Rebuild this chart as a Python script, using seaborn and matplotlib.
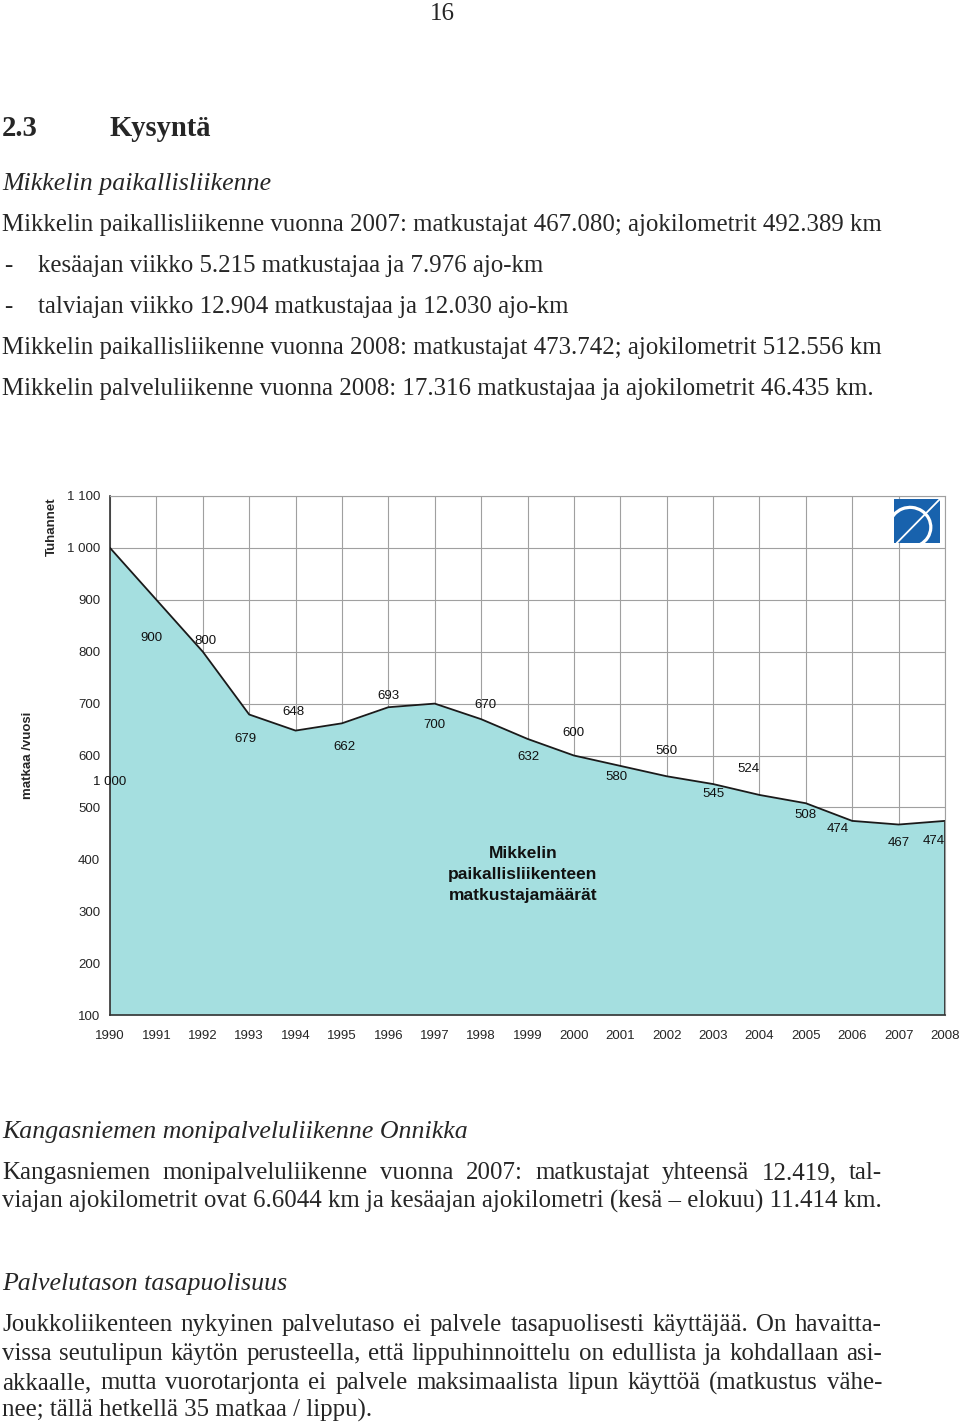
import numpy as np
import pandas as pd
import seaborn as sns
import matplotlib.pyplot as plt
from matplotlib.patches import Rectangle, Arc

# chart data (thousands of trips per year)
years = list(range(1990, 2009))
trips = [1000, 900, 800, 679, 648, 662, 693, 700, 670, 632, 600, 580, 560, 545, 524, 508, 474, 467, 474]
point_labels = ["1 000", "900", "800", "679", "648", "662", "693", "700", "670", "632",
                "600", "580", "560", "545", "524", "508", "474", "467", "474"]
y_ticks = [100, 200, 300, 400, 500, 600, 700, 800, 900, 1000, 1100]
y_tick_labels = ["100", "200", "300", "400", "500", "600", "700", "800", "900", "1 000", "1 100"]

# label offsets in pixels (dx, dy) - layout only
label_off = [(0, -234), (-5, -38), (3, 11), (-4, -25), (-2, 19), (2, -24), (0, 11), (0, -21),
             (4, 14), (1, -18), (0, 23), (-4, -11), (0, 25), (0, -10), (-11, 26), (0, -12),
             (-14, -8), (0, -18), (-11, -20)]

df = pd.DataFrame({"vuosi": years, "matkat": trips})

W, H = 960, 1422
sns.set_theme(style="white")
plt.rcParams["font.family"] = ["Liberation Sans", "DejaVu Sans"]

fig = plt.figure(figsize=(W / 100, H / 100), dpi=100)

def fx(x):
    return x / W

def fy(y):
    return 1 - y / H

# ---- chart ----
ax = fig.add_axes([fx(110), fy(1015), fx(945) - fx(110), fy(496) - fy(1015)])
ax.set_xlim(1990, 2008)
ax.set_ylim(100, 1100)
ax.set_xticks(years)
ax.set_xticklabels([str(y) for y in years], fontsize=9.5)
ax.set_yticks(y_ticks)
ax.set_yticklabels(y_tick_labels, fontsize=9.5)
ax.tick_params(axis="both", direction="out", length=4, width=0.8, color="#333333", pad=3)
ax.tick_params(axis="x", pad=7)
ax.grid(True, color="#a0a0a0", linewidth=0.8, zorder=0)
ax.set_axisbelow(True)

ax.fill_between(df["vuosi"], df["matkat"], 100, color="#a5dfe0", zorder=2, linewidth=0)
sns.lineplot(data=df, x="vuosi", y="matkat", ax=ax, color="#1a1a1a", linewidth=1.3, zorder=3)
ax.plot([2008, 2008], [100, trips[-1]], color="#333333", linewidth=1.3, zorder=3)
ax.set_xlabel("")
ax.set_ylabel("")

for s in ["left", "bottom"]:
    ax.spines[s].set_color("#333333")
    ax.spines[s].set_linewidth(1.2)
for s in ["top", "right"]:
    ax.spines[s].set_color("#a0a0a0")
    ax.spines[s].set_linewidth(0.8)

for yr, v, lab, (dx, dy) in zip(years, trips, point_labels, label_off):
    ax.annotate(lab, (yr, v), xytext=(dx, dy), textcoords="offset pixels",
                ha="center", va="center", fontsize=9.5, color="#111111", zorder=4)

ax.text(1998.9, 370, "Mikkelin\npaikallisliikenteen\nmatkustajamäärät", ha="center", va="center",
        fontsize=12.5, fontweight="bold", color="#111111", linespacing=1.5, zorder=4)

fig.text(fx(52), fy(527), "Tuhannet", rotation=90, ha="center", va="center",
         fontsize=9.5, fontweight="bold")
fig.text(fx(28), fy(755), "matkaa /vuosi", rotation=90, ha="center", va="center",
         fontsize=9.5, fontweight="bold")

# logo
lax = fig.add_axes([fx(894), fy(543), fx(940) - fx(894), fy(499) - fy(543)])
lax.set_xlim(0, 1)
lax.set_ylim(0, 1)
lax.axis("off")
sq = Rectangle((0, 0), 1, 1, color="#1862ad", zorder=1)
lax.add_patch(sq)
arc = Arc((0.35, 0.36), 0.9, 0.9, theta1=-60, theta2=170, color="white", linewidth=2.3, zorder=2)
lax.add_patch(arc)
arc.set_clip_path(sq)
lax.plot([0.06, 1.0], [0.0, 1.0], color="white", linewidth=1.3, zorder=3)

# ---- page text ----
serif = ["Liberation Serif", "DejaVu Serif"]
renderer = fig.canvas.get_renderer()

def line(y, txt, x0=2, x1=None, size=17.9, style="normal", weight="normal"):
    y = y + 2
    kw = dict(fontsize=size, family=serif, style=style, weight=weight, va="center", ha="left")
    if x1 is None:
        fig.text(fx(x0), fy(y), txt, **kw)
        return
    words = txt.split()
    arts = [fig.text(fx(x0), fy(y), w, **kw) for w in words]
    widths = [a.get_window_extent(renderer).width for a in arts]
    gap = (x1 - x0 - sum(widths)) / max(len(words) - 1, 1)
    x = x0
    for a, w in zip(arts, widths):
        a.set_x(fx(x))
        x += w + gap

line(12, "16", x0=430)
line(127, "2.3", size=20.6, weight="bold")
line(127, "Kysyntä", x0=110, size=20.6, weight="bold")
line(182, "Mikkelin paikallisliikenne", size=18.6, style="italic")
line(223, "Mikkelin paikallisliikenne vuonna 2007: matkustajat 467.080; ajokilometrit 492.389 km")
line(264, "-", x0=4)
line(264, "kesäajan viikko 5.215 matkustajaa ja 7.976 ajo-km", x0=38)
line(305, "-", x0=4)
line(305, "talviajan viikko 12.904 matkustajaa ja 12.030 ajo-km", x0=38)
line(346, "Mikkelin paikallisliikenne vuonna 2008: matkustajat 473.742; ajokilometrit 512.556 km")
line(387, "Mikkelin palveluliikenne vuonna 2008: 17.316 matkustajaa ja ajokilometrit 46.435 km.")

line(1130, "Kangasniemen monipalveluliikenne Onnikka", size=18.6, style="italic")
line(1171, "Kangasniemen monipalveluliikenne vuonna 2007: matkustajat yhteensä 12.419,  tal-", x1=882)
line(1199, "viajan ajokilometrit ovat 6.6044 km ja kesäajan ajokilometri (kesä – elokuu) 11.414 km.")
line(1282, "Palvelutason tasapuolisuus", size=18.6, style="italic")
line(1323, "Joukkoliikenteen nykyinen palvelutaso ei palvele tasapuolisesti käyttäjää. On havaitta-", x1=882)
line(1352, "vissa seutulipun käytön perusteella, että lippuhinnoittelu on edullista ja kohdallaan asi-", x1=882)
line(1381, "akkaalle, mutta vuorotarjonta ei palvele maksimaalista lipun käyttöä (matkustus vähe-", x1=882)
line(1408, "nee; tällä hetkellä 35 matkaa / lippu).")

fig.savefig("out.png", dpi=100)
